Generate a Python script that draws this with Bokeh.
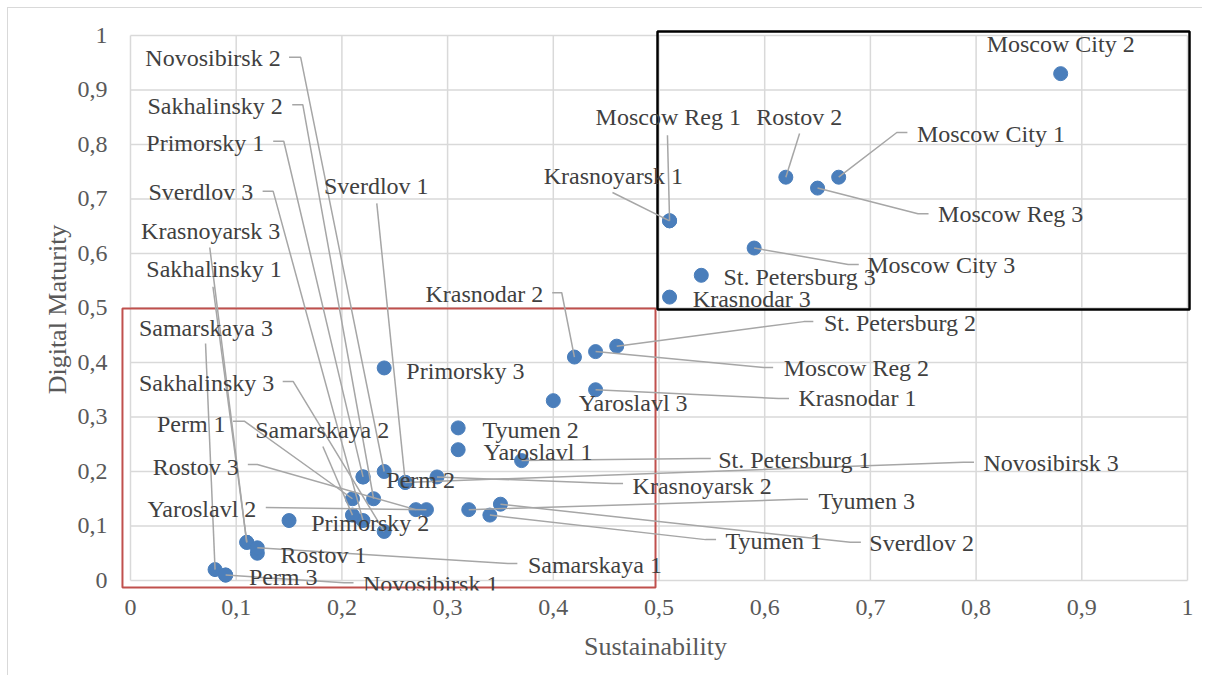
from bokeh.plotting import figure
from bokeh.models import Range1d, FixedTicker, CustomJSTickFormatter, ColumnDataSource
from bokeh.embed import file_html
from bokeh.resources import INLINE
from bokeh.core.properties import value

# ---------------- data ----------------
names = [
    "Moscow City 1", "Moscow City 2", "Moscow City 3",
    "Moscow Reg 1", "Moscow Reg 2", "Moscow Reg 3",
    "St. Petersburg 1", "St. Petersburg 2", "St. Petersburg 3",
    "Krasnodar 1", "Krasnodar 2", "Krasnodar 3",
    "Krasnoyarsk 1", "Krasnoyarsk 2", "Krasnoyarsk 3",
    "Rostov 1", "Rostov 2", "Rostov 3",
    "Sverdlov 1", "Sverdlov 2", "Sverdlov 3",
    "Novosibirsk 1", "Novosibirsk 2", "Novosibirsk 3",
    "Sakhalinsky 1", "Sakhalinsky 2", "Sakhalinsky 3",
    "Primorsky 1", "Primorsky 2", "Primorsky 3",
    "Samarskaya 1", "Samarskaya 2", "Samarskaya 3",
    "Perm 1", "Perm 2", "Perm 3",
    "Tyumen 1", "Tyumen 2", "Tyumen 3",
    "Yaroslavl 1", "Yaroslavl 2", "Yaroslavl 3",
]
sustainability = [
    0.67, 0.88, 0.59,
    0.51, 0.44, 0.65,
    0.37, 0.46, 0.54,
    0.44, 0.42, 0.51,
    0.51, 0.29, 0.11,
    0.12, 0.62, 0.27,
    0.26, 0.35, 0.22,
    0.09, 0.24, 0.26,
    0.11, 0.23, 0.24,
    0.22, 0.15, 0.24,
    0.12, 0.21, 0.08,
    0.21, 0.22, 0.09,
    0.34, 0.31, 0.32,
    0.31, 0.28, 0.40,
]
maturity = [
    0.74, 0.93, 0.61,
    0.66, 0.42, 0.72,
    0.22, 0.43, 0.56,
    0.35, 0.41, 0.52,
    0.66, 0.19, 0.07,
    0.05, 0.74, 0.13,
    0.18, 0.14, 0.11,
    0.01, 0.20, 0.18,
    0.07, 0.15, 0.09,
    0.19, 0.11, 0.39,
    0.06, 0.12, 0.02,
    0.15, 0.19, 0.01,
    0.12, 0.28, 0.13,
    0.24, 0.13, 0.33,
]
grid_ticks = [0, 0.1, 0.2, 0.3, 0.4, 0.5, 0.6, 0.7, 0.8, 0.9, 1]

# ---------------- label layout (data units): text left/center, leader path start ----------------
label_layout = {
    "Moscow City 2": (0.810, 0.985, []),
    "Moscow City 1": (0.744, 0.820, [(0.735, 0.822), (0.725, 0.822)]),
    "Rostov 2": (0.592, 0.850, [(0.633, 0.820)]),
    "Moscow Reg 3": (0.764, 0.673, [(0.755, 0.673), (0.745, 0.673)]),
    "Moscow Reg 1": (0.440, 0.850, [(0.508, 0.817)]),
    "Krasnoyarsk 1": (0.391, 0.743, [(0.456, 0.712)]),
    "Moscow City 3": (0.697, 0.578, [(0.689, 0.580), (0.679, 0.580)]),
    "St. Petersburg 3": (0.561, 0.556, []),
    "Krasnodar 3": (0.532, 0.517, []),
    "Krasnodar 2": (0.279, 0.525, [(0.399, 0.528), (0.408, 0.528)]),
    "St. Petersburg 2": (0.656, 0.472, [(0.646, 0.475), (0.637, 0.475)]),
    "Moscow Reg 2": (0.618, 0.389, [(0.608, 0.391), (0.599, 0.391)]),
    "Krasnodar 1": (0.632, 0.334, [(0.623, 0.334), (0.613, 0.334)]),
    "Yaroslavl 3": (0.424, 0.325, []),
    "Primorsky 3": (0.261, 0.385, []),
    "Tyumen 2": (0.333, 0.277, []),
    "Yaroslavl 1": (0.334, 0.235, []),
    "St. Petersburg 1": (0.556, 0.222, [(0.549, 0.224), (0.539, 0.224)]),
    "Novosibirsk 3": (0.807, 0.215, [(0.798, 0.217), (0.788, 0.217)]),
    "Krasnoyarsk 2": (0.475, 0.174, [(0.466, 0.178), (0.456, 0.178)]),
    "Tyumen 3": (0.651, 0.145, [(0.641, 0.149), (0.632, 0.149)]),
    "Tyumen 1": (0.563, 0.072, [(0.554, 0.075), (0.544, 0.075)]),
    "Sverdlov 2": (0.699, 0.068, [(0.691, 0.070), (0.681, 0.070)]),
    "Samarskaya 1": (0.376, 0.029, [(0.366, 0.031), (0.357, 0.031)]),
    "Novosibirsk 1": (0.220, -0.007, [(0.211, -0.004), (0.202, -0.004)]),
    "Perm 3": (0.112, 0.007, []),
    "Rostov 1": (0.142, 0.046, []),
    "Samarskaya 3": (0.008, 0.464, [(0.071, 0.435)]),
    "Sakhalinsky 3": (0.008, 0.362, [(0.144, 0.365), (0.154, 0.365)]),
    "Perm 1": (0.025, 0.288, [(0.097, 0.292), (0.108, 0.292)]),
    "Samarskaya 2": (0.118, 0.277, [(0.182, 0.246)]),
    "Rostov 3": (0.021, 0.209, [(0.111, 0.213), (0.120, 0.213)]),
    "Yaroslavl 2": (0.016, 0.132, [(0.128, 0.134)]),
    "Primorsky 2": (0.171, 0.106, []),
    "Novosibirsk 2": (0.014, 0.958, [(0.150, 0.960), (0.161, 0.960)]),
    "Sakhalinsky 2": (0.016, 0.870, [(0.153, 0.873), (0.163, 0.873)]),
    "Primorsky 1": (0.015, 0.802, [(0.135, 0.806), (0.145, 0.806)]),
    "Sverdlov 3": (0.017, 0.712, [(0.125, 0.714), (0.135, 0.714)]),
    "Krasnoyarsk 3": (0.010, 0.642, [(0.075, 0.611)]),
    "Sakhalinsky 1": (0.015, 0.571, [(0.078, 0.539)]),
    "Sverdlov 1": (0.183, 0.723, [(0.233, 0.692)]),
    "Perm 2": (0.242, 0.184, []),
}

# highlight boxes (data units)
red_box = (-0.0076, 0.4967, -0.0128, 0.4991)
black_box = (0.4986, 1.0019, 0.4972, 1.0073)

FONT = "Liberation Serif"

p = figure(
    width=1202, height=675,
    x_range=Range1d(-0.01135, 1.00473), y_range=Range1d(-0.01835, 1.01284),
    output_backend="svg", toolbar_location=None,
    min_border_left=118, min_border_right=10, min_border_top=28, min_border_bottom=85,
    background_fill_color="white", border_fill_color=None,
)
p.outline_line_color = None
p.grid.visible = False
p.styles = {
    "background": "linear-gradient(#d9d9d9,#d9d9d9) 7px 7px / 1px 100% no-repeat, "
                  "linear-gradient(#d9d9d9,#d9d9d9) 7px 7px / 100% 1px no-repeat, white",
}

# manual grid limited to 0..1
p.segment(x0=grid_ticks, y0=[0] * len(grid_ticks), x1=grid_ticks, y1=[1] * len(grid_ticks),
          line_color="#d9d9d9", line_width=1.5)
p.segment(x0=[0] * len(grid_ticks), y0=grid_ticks, x1=[1] * len(grid_ticks), y1=grid_ticks,
          line_color="#d9d9d9", line_width=1.5)

# boxes
p.quad(left=[red_box[0]], right=[red_box[1]], bottom=[red_box[2]], top=[red_box[3]],
       fill_color=None, line_color="#c0504d", line_width=2)
p.quad(left=[black_box[0]], right=[black_box[1]], bottom=[black_box[2]], top=[black_box[3]],
       fill_color=None, line_color="black", line_width=2.5)

# points
src = ColumnDataSource(dict(x=sustainability, y=maturity, name=names))
p.scatter("x", "y", source=src, size=14, fill_color="#4a7ebb", line_color="#4a7ebb")

# leader lines
xs, ys = [], []
for n, sx, my in zip(names, sustainability, maturity):
    path = label_layout[n][2]
    if path:
        xs.append([q[0] for q in path] + [sx])
        ys.append([q[1] for q in path] + [my])
p.multi_line(xs, ys, line_color="#a6a6a6", line_width=1.5)

# labels
p.text(x=[label_layout[n][0] for n in names], y=[label_layout[n][1] for n in names], text=names,
       text_font=value(FONT), text_font_size="24px", text_color="#404040",
       text_align="left", text_baseline="middle")

# axes
for ax in (p.xaxis[0], p.yaxis[0]):
    ax.ticker = FixedTicker(ticks=grid_ticks)
    ax.formatter = CustomJSTickFormatter(code="return (Math.round(tick*10)/10).toString().replace('.', ',');")
    ax.axis_line_color = None
    ax.major_tick_line_color = None
    ax.minor_tick_line_color = None
    ax.major_tick_out = 0
    ax.major_tick_in = 0
    ax.major_label_text_font = FONT
    ax.major_label_text_font_size = "24px"
    ax.major_label_text_color = "#595959"
    ax.axis_label_text_font = FONT
    ax.axis_label_text_font_size = "26px"
    ax.axis_label_text_color = "#595959"
    ax.axis_label_text_font_style = "normal"

p.xaxis.axis_label = "Sustainability"
p.yaxis.axis_label = "Digital Maturity"
p.xaxis.major_label_standoff = 9
p.yaxis.major_label_standoff = 11
p.xaxis.axis_label_standoff = 14
p.yaxis.axis_label_standoff = 3

open("out.html", "w").write(file_html(p, INLINE))
